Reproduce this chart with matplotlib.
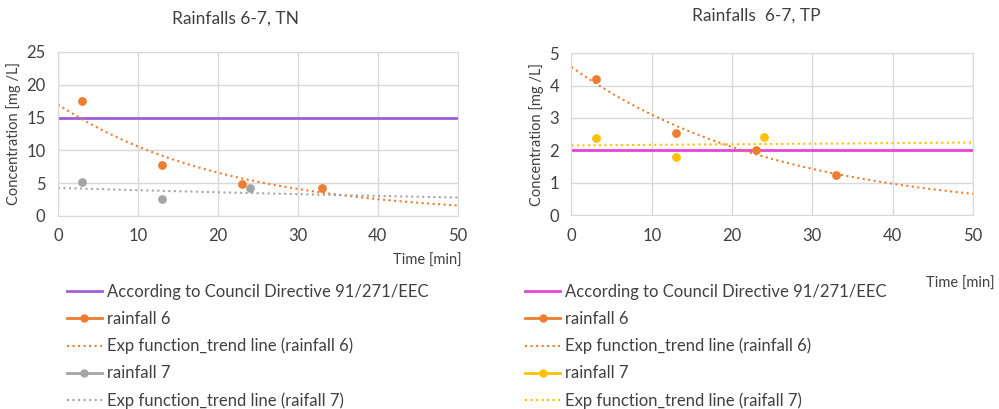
import numpy as np
import matplotlib.pyplot as plt
from matplotlib.lines import Line2D

plt.rcParams['font.family'] = ['Lato', 'DejaVu Sans']

# Data
time6 = [3, 13, 23, 33]
time7 = [3, 13, 24]
tn_rain6 = [17.5, 7.7, 4.9, 4.2]
tn_rain7 = [5.1, 2.6, 4.2]
tp_rain6 = [4.2, 2.55, 2.0, 1.25]
tp_rain7 = [2.38, 1.8, 2.4]
tn_limit = 15
tp_limit = 2

orange = '#ED7D31'
grey = '#A5A5A5'
yellow = '#FFC000'
purple = '#9E5FD6'
magenta = '#E645D8'
gridc = '#D9D9D9'


def exp_fit(x, y):
    # Excel style exponential trend line: y = a*exp(b*x)
    b, lna = np.polyfit(x, np.log(y), 1)
    xx = np.linspace(0, 50, 200)
    return xx, np.exp(lna) * np.exp(b * xx)


def style_axes(ax, ymax, ystep):
    ax.set_xlim(0, 50)
    ax.set_ylim(0, ymax)
    ax.set_xticks(np.arange(0, 51, 10))
    ax.set_yticks(np.arange(0, ymax + 0.01, ystep))
    ax.grid(True, color=gridc, linewidth=1)
    ax.set_axisbelow(True)
    for s in ax.spines.values():
        s.set_color(gridc)
    ax.tick_params(length=0, labelsize=12, colors='#404040', pad=9)
    ax.set_ylabel('Concentration [mg /L]', fontsize=10.5, color='#404040')


fig = plt.figure(figsize=(9.99, 4.09), dpi=100)

# ---- TN
ax1 = fig.add_axes([0.058, 0.472, 0.400, 0.401])
ax1.axhline(tn_limit, color=purple, linewidth=2)
ax1.scatter(time6, tn_rain6, color=orange, s=28, zorder=3)
xx, yy = exp_fit(time6, tn_rain6)
ax1.plot(xx, yy, color=orange, linestyle=':', linewidth=1.5)
ax1.scatter(time7, tn_rain7, color=grey, s=28, zorder=3)
xx, yy = exp_fit(time7, tn_rain7)
ax1.plot(xx, yy, color=grey, linestyle=':', linewidth=1.5)
style_axes(ax1, 25, 5)
fig.text(0.236, 0.955, 'Rainfalls 6-7, TN', ha='center', va='center',
         fontsize=12.5, color='#404040')
fig.text(0.462, 0.362, 'Time [min]', ha='right', va='center',
         fontsize=10.5, color='#404040')

# ---- TP
ax2 = fig.add_axes([0.572, 0.474, 0.402, 0.396])
ax2.axhline(tp_limit, color=magenta, linewidth=2)
ax2.scatter(time6, tp_rain6, color=orange, s=28, zorder=3)
xx, yy = exp_fit(time6, tp_rain6)
ax2.plot(xx, yy, color=orange, linestyle=':', linewidth=1.5)
ax2.scatter(time7, tp_rain7, color=yellow, s=28, zorder=3)
xx, yy = exp_fit(time7, tp_rain7)
ax2.plot(xx, yy, color=yellow, linestyle=':', linewidth=1.5)
style_axes(ax2, 5, 1)
fig.text(0.757, 0.962, 'Rainfalls  6-7, TP', ha='center', va='center',
         fontsize=12.5, color='#404040')
fig.text(0.996, 0.305, 'Time [min]', ha='right', va='center',
         fontsize=10.5, color='#404040')


def legend_handles(c_limit, c7):
    return [
        Line2D([], [], color=c_limit, linewidth=2),
        Line2D([], [], color=orange, linewidth=2, marker='o', markersize=5),
        Line2D([], [], color=orange, linewidth=1.5, linestyle=':'),
        Line2D([], [], color=c7, linewidth=2, marker='o', markersize=5),
        Line2D([], [], color=c7, linewidth=1.5, linestyle=':'),
    ]


labels = ['According to Council Directive 91/271/EEC', 'rainfall 6',
          'Exp function_trend line (rainfall 6)', 'rainfall 7',
          'Exp function_trend line (raifall 7)']

for handles, x0 in [(legend_handles(purple, grey), 0.067),
                    (legend_handles(magenta, yellow), 0.526)]:
    fig.legend(handles, labels, loc='upper left', bbox_to_anchor=(x0, 0.306),
               frameon=False, fontsize=12, handlelength=2.1,
               labelspacing=0.66, handletextpad=0.3, borderpad=0,
               borderaxespad=0, labelcolor='#404040')

fig.savefig('out.png', dpi=100)
